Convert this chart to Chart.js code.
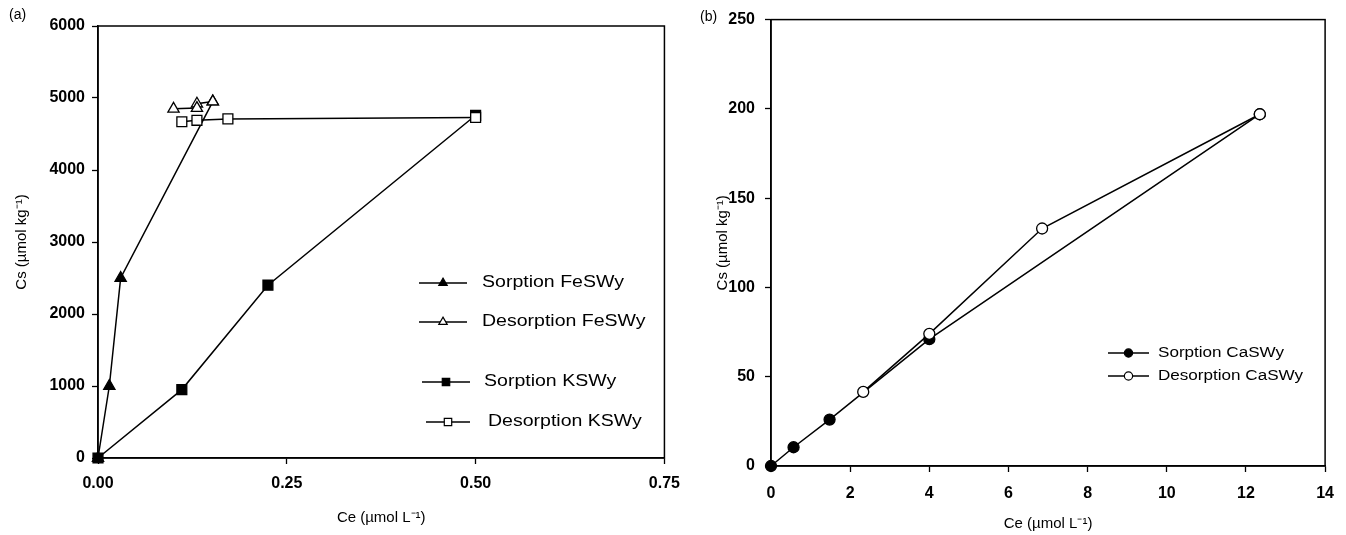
<!DOCTYPE html>
<html lang="en">
<head>
  <meta charset="UTF-8">
  <title>Cs sorption / desorption</title>
  <script src="https://cdn.jsdelivr.net/npm/chart.js@4"></script>
  <style>
    body { margin: 0; background: #fff; }
    #wrap { position: relative; width: 1346px; height: 535px; }
    #boxA { position: absolute; left: 0; top: 0; width: 690px; height: 535px; }
    #boxB { position: absolute; left: 690px; top: 0; width: 656px; height: 535px; }
    .tag { position: absolute; font: 14px "Liberation Sans", Arial, sans-serif; color: #000; }
  </style>
</head>
<body>
  <div id="wrap">
    <div id="boxA"><canvas id="chartA"></canvas></div>
    <div id="boxB"><canvas id="chartB"></canvas></div>
    <div class="tag" style="left:9px; top:6px;">(a)</div>
    <div class="tag" style="left:700px; top:8px;">(b)</div>
  </div>

  <script>
    // panel (a)
    const feSorpX = [0, 0.015, 0.03, 0.152];
    const feSorpY = [0, 1000, 2500, 4950];
    const feDesX = [0.152, 0.131, 0.131, 0.10];
    const feDesY = [4950, 4920, 4860, 4850];
    const kSorpX = [0, 0.111, 0.225, 0.5];
    const kSorpY = [0, 950, 2400, 4760];
    const kDesX = [0.5, 0.172, 0.131, 0.111];
    const kDesY = [4730, 4710, 4690, 4670];
    const ticksAx = [0, 0.25, 0.5, 0.75];
    const ticksAy = [0, 1000, 2000, 3000, 4000, 5000, 6000];

    // panel (b)
    const caSorpX = [0, 0.57, 1.48, 4.0, 12.35];
    const caSorpY = [0, 10.5, 26, 71, 197];
    const caDesX = [12.35, 6.85, 4.0, 2.33];
    const caDesY = [197, 133, 74, 41.5];
    const ticksBx = [0, 2, 4, 6, 8, 10, 12, 14];
    const ticksBy = [0, 50, 100, 150, 200, 250];

    const FAMILY = '"Liberation Sans", Arial, Helvetica, sans-serif';

    function pts(xs, ys) {
      return xs.map((x, i) => ({ x: x, y: ys[i] }));
    }

    function series(label, xs, ys, style, filled, radius, order) {
      return {
        label: label,
        data: pts(xs, ys),
        borderColor: '#000',
        borderWidth: 1.5,
        pointStyle: style,
        pointRadius: radius,
        pointBorderWidth: 1.3,
        pointBorderColor: '#000',
        pointBackgroundColor: filled ? '#000' : '#fff',
        tension: 0,
        fill: false,
        clip: false,
        order: order
      };
    }

    function drawMarker(ctx, style, r, x, y, fillColor) {
      ctx.beginPath();
      if (style === 'triangle') {
        ctx.moveTo(x, y - r);
        ctx.lineTo(x + r * 0.866, y + r * 0.5);
        ctx.lineTo(x - r * 0.866, y + r * 0.5);
        ctx.closePath();
      } else if (style === 'rect') {
        const s = r * Math.SQRT1_2;
        ctx.rect(x - s, y - s, 2 * s, 2 * s);
      } else {
        ctx.arc(x, y, r, 0, Math.PI * 2);
      }
      ctx.fillStyle = fillColor;
      ctx.fill();
      ctx.lineWidth = 1.2;
      ctx.strokeStyle = '#000';
      ctx.stroke();
    }

    // frame round the plot area
    const framePlugin = {
      id: 'frame',
      beforeDatasetsDraw(chart) {
        const a = chart.chartArea;
        const ctx = chart.ctx;
        ctx.save();
        ctx.strokeStyle = '#000';
        ctx.lineWidth = 1.5;
        ctx.strokeRect(a.left, a.top, a.right - a.left, a.bottom - a.top);
        ctx.restore();
      }
    };

    // legend entries placed inside the plot like the original
    const panelLegend = {
      id: 'panelLegend',
      afterDraw(chart, args, opts) {
        if (!opts || !opts.items) return;
        const ctx = chart.ctx;
        ctx.save();
        opts.items.forEach(it => {
          const ds = chart.data.datasets[it.ds];
          ctx.strokeStyle = '#000';
          ctx.lineWidth = 1.5;
          ctx.beginPath();
          ctx.moveTo(it.x0, it.y);
          ctx.lineTo(it.x1, it.y);
          ctx.stroke();
          drawMarker(ctx, ds.pointStyle, ds.pointRadius * 0.75, (it.x0 + it.x1) / 2, it.y, ds.pointBackgroundColor);
          ctx.save();
          ctx.translate(it.tx, it.y);
          ctx.scale(opts.stretch, 1);
          ctx.font = opts.size + 'px ' + FAMILY;
          ctx.fillStyle = '#000';
          ctx.textBaseline = 'middle';
          ctx.fillText(ds.label, 0, 0);
          ctx.restore();
        });
        ctx.restore();
      }
    };

    function axis(min, max, tickVals, decimals, title, fixSize, tickPad, titlePad, horizontal) {
      return {
        type: 'linear',
        min: min,
        max: max,
        afterBuildTicks: s => { s.ticks = tickVals.map(v => ({ value: v })); },
        afterFit: s => { if (horizontal) s.height = fixSize; else s.width = fixSize; },
        border: { display: true, color: '#000', width: 1.5 },
        grid: { drawOnChartArea: false, drawTicks: true, tickLength: 6, tickWidth: 1.3, tickColor: '#000' },
        ticks: {
          color: '#000',
          padding: tickPad,
          font: { family: FAMILY, size: 16, weight: 'bold' },
          callback: v => Number(v).toFixed(decimals)
        },
        title: {
          display: true,
          text: title,
          color: '#000',
          font: { family: FAMILY, size: 15 },
          padding: titlePad
        }
      };
    }

    new Chart(document.getElementById('chartA'), {
      type: 'line',
      data: {
        datasets: [
          series('Sorption FeSWy', feSorpX, feSorpY, 'triangle', true, 6.5, 1),
          series('Desorption FeSWy', feDesX, feDesY, 'triangle', false, 6.5, 0),
          series('Sorption KSWy', kSorpX, kSorpY, 'rect', true, 7, 1),
          series('Desorption KSWy', kDesX, kDesY, 'rect', false, 7, 0)
        ]
      },
      options: {
        responsive: true,
        maintainAspectRatio: false,
        animation: false,
        layout: { padding: { left: 0, top: 26, right: 24, bottom: 0 } },
        scales: {
          x: axis(0, 0.75, ticksAx, 2, 'Ce (µmol L⁻¹)', 77, 10, { top: 0, bottom: 8 }, true),
          y: axis(0, 6000, ticksAy, 0, 'Cs (µmol kg⁻¹)', 98, 7, { top: 13, bottom: 0 }, false)
        },
        plugins: {
          legend: { display: false },
          tooltip: { enabled: false },
          panelLegend: {
            size: 16,
            stretch: 1.22,
            items: [
              { ds: 0, x0: 419, x1: 467, tx: 482, y: 283 },
              { ds: 1, x0: 419, x1: 467, tx: 482, y: 322 },
              { ds: 2, x0: 422, x1: 470, tx: 484, y: 382 },
              { ds: 3, x0: 426, x1: 470, tx: 488, y: 422 }
            ]
          }
        }
      },
      plugins: [framePlugin, panelLegend]
    });

    new Chart(document.getElementById('chartB'), {
      type: 'line',
      data: {
        datasets: [
          series('Sorption CaSWy', caSorpX, caSorpY, 'circle', true, 5.5, 1),
          series('Desorption CaSWy', caDesX, caDesY, 'circle', false, 5.5, 0)
        ]
      },
      options: {
        responsive: true,
        maintainAspectRatio: false,
        animation: false,
        layout: { padding: { left: 0, top: 18, right: 11, bottom: 0 } },
        scales: {
          x: axis(0, 14, ticksBx, 0, 'Ce (µmol L⁻¹)', 69, 12, { top: 0, bottom: 2 }, true),
          y: axis(0, 250, ticksBy, 0, 'Cs (µmol kg⁻¹)', 81, 10, { top: 24, bottom: 0 }, false)
        },
        plugins: {
          legend: { display: false },
          tooltip: { enabled: false },
          panelLegend: {
            size: 14,
            stretch: 1.22,
            items: [
              { ds: 0, x0: 418, x1: 459, tx: 468, y: 353 },
              { ds: 1, x0: 418, x1: 459, tx: 468, y: 376 }
            ]
          }
        }
      },
      plugins: [framePlugin, panelLegend]
    });
  </script>
</body>
</html>
